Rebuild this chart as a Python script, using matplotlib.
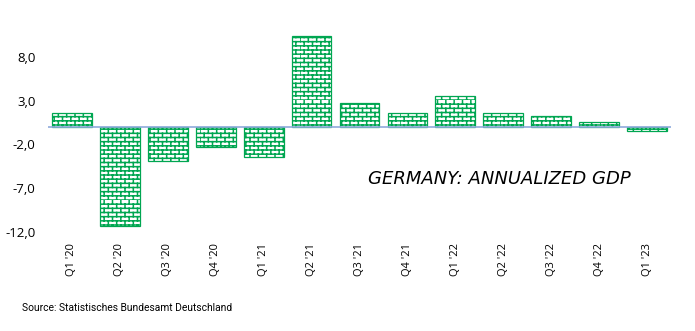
import numpy as np
import matplotlib
matplotlib.use('Agg')
import matplotlib.pyplot as plt
from matplotlib import hatch as mhatch
from matplotlib.path import Path

quarters = ["Q1 '20", "Q2 '20", "Q3 '20", "Q4 '20", "Q1 '21", "Q2 '21", "Q3 '21",
            "Q4 '21", "Q1 '22", "Q2 '22", "Q3 '22", "Q4 '22", "Q1 '23"]
gdp = [1.6, -11.3, -3.9, -2.3, -3.4, 10.4, 2.7, 1.6, 3.5, 1.6, 1.2, 0.6, -0.5]
yticks = [8, 3, -2, -7, -12]

GREEN = '#00a651'


# brick hatch, replaces the builtin ones (triggered by '+')
class BrickHatch(mhatch.HatchPatternBase):
    rows = 24
    cols = 12

    def __init__(self, hatch, density):
        self.on = hatch.count('+') > 0
        self.num_vertices = (self.rows * 2 + self.rows * self.cols * 2) if self.on else 0

    def set_vertices_and_codes(self, vertices, codes):
        k = 0
        for i in range(self.rows):
            y = i / self.rows
            vertices[k] = (0.0, y); codes[k] = Path.MOVETO
            vertices[k + 1] = (1.0, y); codes[k + 1] = Path.LINETO
            k += 2
        for i in range(self.rows):
            y0 = i / self.rows
            y1 = (i + 1) / self.rows
            off = 0.5 * (i % 2)
            for j in range(self.cols):
                x = (j + off) / self.cols
                vertices[k] = (x, y0); codes[k] = Path.MOVETO
                vertices[k + 1] = (x, y1); codes[k + 1] = Path.LINETO
                k += 2


mhatch._hatch_types = [BrickHatch]
plt.rcParams['hatch.linewidth'] = 1.1

fig = plt.figure(figsize=(6.95, 3.31), dpi=100)
ax = fig.add_axes([48 / 695, 1 - 232 / 331, 623 / 695, 219 / 331])

x = np.arange(len(quarters))
ax.bar(x, gdp, width=0.83, facecolor='white', edgecolor=GREEN, linewidth=0.9, hatch='+')
ax.axhline(0, color='#8faadc', lw=1.2, zorder=3)

ax.set_xlim(-0.5, len(quarters) - 0.5)
ax.set_ylim(-12, 13)
ax.set_yticks(yticks)
ax.set_yticklabels([f'{v:.1f}'.replace('.', ',') for v in yticks], fontsize=9.5,
                   family='Open Sans')
ax.set_xticks(x)
ax.set_xticklabels(quarters, rotation=90, fontsize=8, family='Open Sans')
ax.tick_params(axis='both', length=0)
ax.tick_params(axis='y', pad=9)
ax.tick_params(axis='x', pad=8)
for s in ax.spines.values():
    s.set_visible(False)

fig.text(368 / 695, 1 - 179 / 331, 'GERMANY: ANNUALIZED GDP', fontsize=13, style='italic',
         family='DejaVu Sans', va='center', ha='left')
fig.text(22 / 695, 1 - 308 / 331, 'Source: Statistisches Bundesamt Deutschland',
         fontsize=7.4, family='Roboto', va='center', ha='left')

fig.savefig('out.png', dpi=100)
